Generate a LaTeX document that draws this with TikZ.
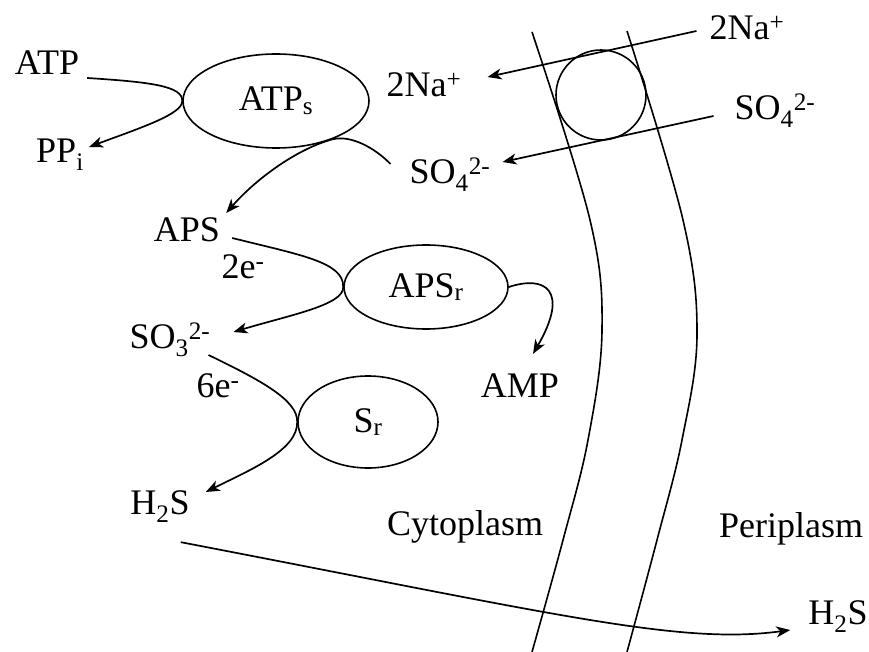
\documentclass[tikz,border=0pt]{standalone}
\usepackage{fontspec}
\setmainfont{Liberation Serif}
\usetikzlibrary{shapes.geometric,arrows.meta}
\begin{document}
\begin{tikzpicture}[x=1pt,y=-1pt,
  lbl/.style={inner sep=0pt, font=\fontsize{36}{40}\selectfont},
  enz/.style={draw, ellipse, line width=1.6pt, inner sep=0pt,
    font=\fontsize{36}{40}\selectfont},
  flow/.style={line width=1.7pt},
  arr/.style={flow, -{Stealth[length=14pt,width=11pt,inset=4pt]}},
  mem/.style={line width=1.6pt}]
\useasboundingbox (0,0) rectangle (869,652);

% membrane (two curved leaflets)
\draw[mem] plot[smooth, tension=0.6] coordinates
  {(532,32) (590,220) (602,330) (588,440) (563,540) (532,652)};
\draw[mem] plot[smooth, tension=0.6] coordinates
  {(627,31) (683,220) (697,335) (682,440) (657,540) (627,652)};

% transporter
\node[draw, circle, line width=1.6pt, minimum size=90pt, inner sep=0pt] (tp) at (601,95) {};

% enzymes
\node[enz, minimum width=186pt, minimum height=94pt] (atps) at (276,101) {ATP\textsubscript{s}};
\node[enz, minimum width=164pt, minimum height=84pt] (apsr) at (426,287) {APS\textsubscript{r}};
\node[enz, minimum width=140pt, minimum height=92pt] (sr) at (368,422) {S\textsubscript{r}};

% metabolites and ions
\node[lbl] (atp)  at (47,63)  {ATP};
\node[lbl] (ppi)  at (60,155) {PP\textsubscript{i}};
\node[lbl] (nain) at (424,85) {2Na\textsuperscript{+}};
\node[lbl] (naout) at (747,28) {2Na\textsuperscript{+}};
\node[lbl] (so4in) at (450,175) {SO\textsubscript{4}\textsuperscript{2-}};
\node[lbl] (so4out) at (775,111) {SO\textsubscript{4}\textsuperscript{2-}};
\node[lbl] (aps) at (187,230) {APS};
\node[lbl] (e2) at (243,267) {2e\textsuperscript{-}};
\node[lbl] (so3) at (170,340) {SO\textsubscript{3}\textsuperscript{2-}};
\node[lbl] (e6) at (218,386) {6e\textsuperscript{-}};
\node[lbl] (amp) at (520,386) {AMP};
\node[lbl] (h2sin) at (160,507) {H\textsubscript{2}S};
\node[lbl] (h2sout) at (838,617) {H\textsubscript{2}S};
\node[lbl, anchor=base] (cyto) at (465,535) {Cytoplasm};
\node[lbl, anchor=base] (peri) at (791,537) {Periplasm};

% symport across the membrane
\draw[arr] ([shift={(-13,3)}]naout.west) -- ([shift={(26,-8)}]nain.east);
\draw[arr] ([shift={(-21,5)}]so4out.west) -- ([shift={(12,-13)}]so4in.east);

% sulfate activation
\draw[arr] ([shift={(8,15)}]atp.east) .. controls (150,82) and (183,86) .. (atps.west)
  .. controls (183,114) and (140,128) .. ([shift={(5,-8)}]ppi.east);
\draw[arr] ([shift={(-19,-11)}]so4in.west) .. controls (375,148) and (350,134) .. (atps.-35)
  .. controls (295,150) and (255,180) .. ([shift={(6,-17)}]aps.east);

% APS reduction
\draw[arr] ([shift={(12,8)}]aps.east) .. controls (300,255) and (344,262) .. (apsr.west)
  .. controls (344,305) and (290,315) .. ([shift={(23,-8)}]so3.east);
\draw[arr] (apsr.east) .. controls (545,275) and (570,290) .. ([shift={(13,-20)}]amp.north);

% sulfite reduction
\draw[arr] ([shift={(-2,15)}]so3.east) .. controls (260,380) and (298,400) .. (sr.west)
  .. controls (298,450) and (250,470) .. ([shift={(16,-15)}]h2sin.east);

% sulfide export
\draw[arr] ([shift={(-9,19)}]h2sin.south east) .. controls (560,615) and (680,645) .. ([shift={(-18,13)}]h2sout.west);
\end{tikzpicture}
\end{document}
